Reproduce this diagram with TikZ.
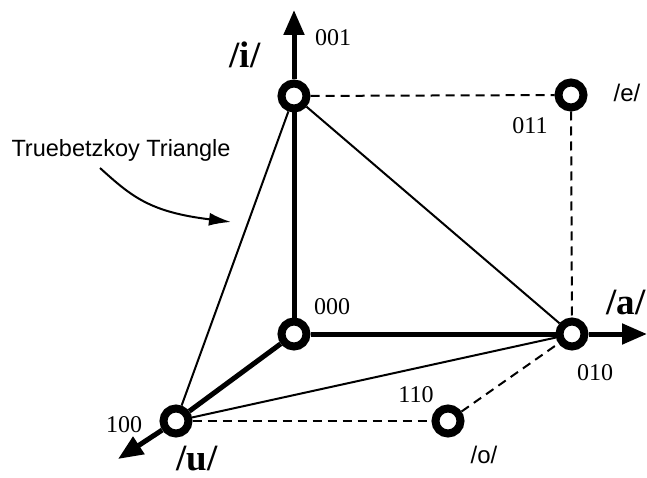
\documentclass[tikz,border=0pt]{standalone}
\usepackage{fontspec}
\setmainfont{Liberation Serif}
\setsansfont{Liberation Sans}
\usetikzlibrary{arrows.meta}

\begin{document}
\begin{tikzpicture}[
    x=1pt, y=-1pt,
    vowel/.style={circle, draw=black, fill=white, line width=8pt,
                  minimum size=25pt, inner sep=0pt},
    code/.style={font=\fontsize{24}{24}\selectfont, inner sep=0pt},
    phon/.style={font=\fontsize{37}{37}\selectfont\bfseries, inner sep=0pt},
    phonsf/.style={font=\sffamily\fontsize{24}{24}\selectfont, inner sep=0pt},
    axis/.style={line width=5pt},
    axisarrow/.style={line width=5pt, -{Triangle[length=25pt,width=20pt]}},
    edge/.style={line width=2pt},
    dashedge/.style={line width=2pt, dash pattern=on 9pt off 6pt}
]
\useasboundingbox (0,0) rectangle (647,478);

% corners of the cube
\node[vowel] (n000) at (294,334) {};
\node[vowel] (n001) at (294,96) {};
\node[vowel] (n010) at (572,334) {};
\node[vowel] (n011) at (571,95) {};
\node[vowel] (n100) at (176,421) {};
\node[vowel] (n110) at (448,421) {};

\coordinate (itip) at (294,10);
\coordinate (atip) at (647,334);
\coordinate (utip) at (118,459);

% axes
\draw[axis] (n000) -- (n001);
\draw[axis] (n000) -- (n010);
\draw[axis] (n000) -- (n100);
\draw[axisarrow] (n001) -- (itip);
\draw[axisarrow] (n010) -- (atip);
\draw[axisarrow] (n100) -- (utip);

% triangle
\draw[edge] (n001) -- (n010);
\draw[edge] (n001) -- (n100);
\draw[edge] (n100) -- (n010);

% cube edges
\draw[dashedge] (n001) -- (n011);
\draw[dashedge] (n011) -- (n010);
\draw[dashedge] (n100) -- (n110);
\draw[dashedge] (n110) -- (n010);

% labels
\node[phon] (li) at (245,55) {/i/};
\node[phon] (la) at (626,302) {/a/};
\node[phon] (lu) at (197,459) {/u/};
\node[phonsf] (le) at (627,93) {/e/};
\node[phonsf] (lo) at (484,455) {/o/};
\node[code] (c001) at (333,38) {001};
\node[code] (c011) at (530,126) {011};
\node[code] (c000) at (332,307) {000};
\node[code] (c010) at (595,373) {010};
\node[code] (c100) at (124,425) {100};
\node[code] (c110) at (416,395) {110};

\node[font=\sffamily\fontsize{23.5}{23.5}\selectfont, inner sep=0pt] (tri)
    at (121,150) {Truebetzkoy Triangle};
\coordinate (trifrom) at (100,168);
\coordinate (trito) at (231,222);
\draw[line width=2pt, -{Latex[length=22pt,width=13pt]}] (trifrom)
    .. controls (132,197) and (150,212) .. (trito);
\end{tikzpicture}
\end{document}
